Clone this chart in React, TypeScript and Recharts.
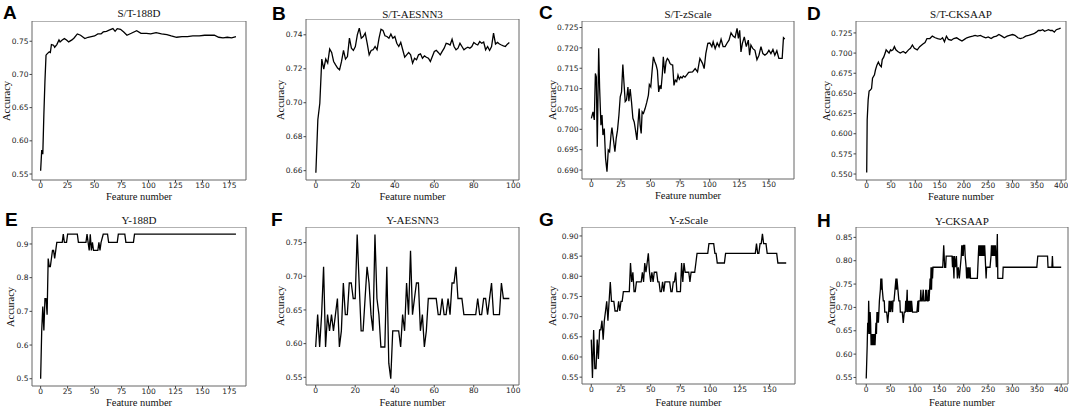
import React from 'react';
import { LineChart, Line, XAxis, YAxis, ReferenceArea } from 'recharts';

// ---- A: S/T-188D ----
const aX = [0, 1, 2, 3, 4, 5, 6, 8, 9, 10, 12, 13, 15, 17, 18, 20, 22, 24, 26, 29, 31, 34, 37, 41, 44, 47, 50, 53, 56, 58, 61, 64, 67, 69, 71, 74, 77, 80, 84, 89, 93, 98, 102, 107, 112, 117, 121, 126, 131, 136, 141, 147, 152, 157, 161, 165, 169, 173, 177, 181];
const aY = [0.555, 0.586, 0.58, 0.64, 0.69, 0.729, 0.731, 0.734, 0.733, 0.745, 0.744, 0.741, 0.745, 0.752, 0.749, 0.752, 0.754, 0.752, 0.749, 0.752, 0.755, 0.761, 0.759, 0.754, 0.756, 0.757, 0.758, 0.761, 0.761, 0.764, 0.765, 0.767, 0.769, 0.765, 0.769, 0.768, 0.764, 0.759, 0.762, 0.766, 0.762, 0.762, 0.761, 0.763, 0.761, 0.76, 0.758, 0.756, 0.757, 0.757, 0.758, 0.758, 0.759, 0.759, 0.759, 0.756, 0.755, 0.756, 0.755, 0.757];

// ---- B: S/T-AESNN3 (one value per feature count, starting at 0) ----
const bY = [
  0.6588, 0.69, 0.6997, 0.7257, 0.7198, 0.7257, 0.7233, 0.7316, 0.7296, 0.7243,
  0.7223, 0.7204, 0.7194, 0.7243, 0.7308, 0.7257, 0.7272, 0.738, 0.7321, 0.7308,
  0.7331, 0.74, 0.7439, 0.738, 0.739, 0.741, 0.735, 0.7282, 0.7308, 0.7312,
  0.7331, 0.7312, 0.738, 0.7433, 0.7426, 0.7394, 0.739, 0.738, 0.7404, 0.738,
  0.739, 0.735, 0.7331, 0.7355, 0.7312, 0.7268, 0.7282, 0.7296, 0.7282, 0.7233,
  0.7262, 0.7253, 0.7282, 0.7288, 0.7262, 0.7276, 0.7268, 0.7262, 0.7243, 0.7272,
  0.7302, 0.7308, 0.7296, 0.7282, 0.7302, 0.7321, 0.735, 0.7346, 0.734, 0.7374,
  0.7331, 0.7312, 0.7321, 0.735, 0.7331, 0.7312, 0.7321, 0.7327, 0.7321, 0.7331,
  0.7355, 0.7346, 0.734, 0.736, 0.735, 0.7357, 0.7312, 0.7331, 0.7308, 0.7331,
  0.741, 0.7346, 0.7355, 0.7346, 0.734, 0.7335, 0.7331, 0.7345, 0.7355,
];

// ---- C: S/T-zScale ----
const cX = [0, 1.4, 2.5, 3.4, 4.2, 5.0, 6.2, 7.0, 8.1, 9.0, 9.8, 10.9, 12.0, 13.2, 14.3, 15.4, 16.6, 17.4, 18.5, 19.9, 21.0, 22.1, 23.3, 24.4, 25.5, 26.6, 27.5, 28.6, 29.7, 30.9, 31.7, 32.8, 33.9, 35.1, 36.2, 37.3, 38.5, 39.5, 40.4, 41.2, 42.1, 42.9, 44.0, 45.4, 46.8, 48.2, 49.0, 50.2, 51.3, 52.4, 53.6, 54.7, 55.8, 56.9, 58.0, 58.9, 60.0, 60.8, 62.0, 63.1, 64.2, 65.3, 66.4, 67.5, 68.7, 69.8, 70.9, 72.1, 73.2, 74.3, 75.5, 76.6, 77.7, 79.1, 80.5, 82.2, 85.5, 87.7, 89.7, 91.7, 93.9, 95.3, 96.7, 98.4, 100.1, 101.8, 102.9, 104.6, 106.3, 107.9, 109.6, 111.3, 113.0, 114.7, 116.3, 118.0, 119.7, 121.4, 123.1, 124.2, 125.3, 126.4, 127.6, 129.2, 130.9, 132.6, 133.7, 134.8, 136.5, 138.2, 139.9, 141.6, 143.3, 144.9, 146.6, 148.3, 150.0, 151.7, 153.4, 155.0, 156.7, 158.4, 160.1, 161.2, 162.3, 163.4];
const cY = [0.7027, 0.7043, 0.7023, 0.7137, 0.7129, 0.6957, 0.7199, 0.71, 0.701, 0.7035, 0.6986, 0.7002, 0.6929, 0.6896, 0.6949, 0.6945, 0.6986, 0.7004, 0.6978, 0.6945, 0.6978, 0.6998, 0.7035, 0.708, 0.7092, 0.7159, 0.7117, 0.7068, 0.7072, 0.7104, 0.7069, 0.7099, 0.7068, 0.7027, 0.7018, 0.6998, 0.6974, 0.7018, 0.7051, 0.701, 0.699, 0.7043, 0.7039, 0.7051, 0.7066, 0.7084, 0.711, 0.7104, 0.7143, 0.7178, 0.7166, 0.7158, 0.7145, 0.7092, 0.7108, 0.7099, 0.7137, 0.7178, 0.7137, 0.7166, 0.7174, 0.717, 0.7162, 0.7159, 0.7158, 0.7108, 0.7121, 0.7117, 0.7133, 0.7123, 0.7129, 0.7126, 0.7131, 0.7128, 0.7133, 0.714, 0.7141, 0.7149, 0.7141, 0.7174, 0.7162, 0.7149, 0.7186, 0.7211, 0.7212, 0.7203, 0.7215, 0.7198, 0.7212, 0.7203, 0.7221, 0.7203, 0.7203, 0.7212, 0.7219, 0.7237, 0.7229, 0.7225, 0.7248, 0.7223, 0.7243, 0.719, 0.7211, 0.7227, 0.7203, 0.7219, 0.7182, 0.7207, 0.7198, 0.7194, 0.7171, 0.7182, 0.7203, 0.7186, 0.7182, 0.7186, 0.7194, 0.7186, 0.7196, 0.7182, 0.7193, 0.7174, 0.7174, 0.7174, 0.7225, 0.7222];

// ---- D: S/T-CKSAAP ----
const dX = [0, 1, 3, 5, 7, 10, 12, 16, 18, 21, 24, 27, 30, 32, 35, 38, 40, 43, 46, 49, 51, 54, 57, 60, 64, 69, 75, 80, 86, 90, 94, 98, 104, 109, 115, 120, 124, 130, 135, 141, 146, 152, 156, 160, 164, 168, 174, 179, 185, 190, 196, 201, 206, 212, 218, 223, 228, 234, 240, 245, 250, 256, 261, 267, 272, 278, 283, 289, 294, 300, 305, 311, 316, 322, 327, 333, 338, 344, 349, 353, 358, 362, 366, 370, 374, 378, 382, 386, 390, 395, 399];
const dY = [0.552, 0.617, 0.642, 0.653, 0.654, 0.656, 0.669, 0.673, 0.679, 0.685, 0.689, 0.685, 0.683, 0.692, 0.695, 0.7, 0.704, 0.702, 0.7, 0.704, 0.703, 0.704, 0.708, 0.704, 0.702, 0.7, 0.702, 0.7, 0.704, 0.706, 0.71, 0.706, 0.704, 0.708, 0.711, 0.713, 0.718, 0.718, 0.721, 0.719, 0.718, 0.717, 0.719, 0.714, 0.721, 0.717, 0.716, 0.718, 0.719, 0.717, 0.715, 0.717, 0.719, 0.72, 0.721, 0.722, 0.721, 0.722, 0.72, 0.719, 0.72, 0.718, 0.72, 0.721, 0.723, 0.721, 0.719, 0.721, 0.722, 0.723, 0.722, 0.719, 0.718, 0.719, 0.721, 0.722, 0.723, 0.724, 0.726, 0.728, 0.728, 0.729, 0.727, 0.728, 0.729, 0.728, 0.728, 0.726, 0.729, 0.73, 0.731];

// ---- E: Y-188D ----
const eX = [0, 1, 2, 3, 4, 5, 6, 7, 8, 9, 10, 11, 12, 13, 14, 15, 20, 21, 22, 24, 25, 34, 35, 42, 43, 44, 45, 46, 47, 48, 49, 53, 54, 55, 56, 58, 62, 63, 71, 72, 78, 79, 86, 87, 181];
const eY = [0.5, 0.643, 0.714, 0.643, 0.738, 0.738, 0.69, 0.857, 0.833, 0.833, 0.857, 0.881, 0.881, 0.857, 0.881, 0.905, 0.905, 0.929, 0.905, 0.905, 0.929, 0.929, 0.905, 0.905, 0.929, 0.905, 0.881, 0.929, 0.881, 0.905, 0.881, 0.881, 0.905, 0.881, 0.905, 0.929, 0.929, 0.905, 0.905, 0.929, 0.929, 0.905, 0.905, 0.929, 0.929];

// ---- F: Y-AESNN3 (one value per feature count, starting at 0) ----
const fY = [
  0.595, 0.643, 0.595, 0.643, 0.714, 0.595, 0.643, 0.619, 0.643, 0.619,
  0.643, 0.667, 0.595, 0.619, 0.69, 0.643, 0.643, 0.69, 0.69, 0.667,
  0.667, 0.762, 0.69, 0.619, 0.619, 0.667, 0.714, 0.69, 0.643, 0.619,
  0.762, 0.667, 0.643, 0.595, 0.595, 0.595, 0.714, 0.571, 0.548, 0.619,
  0.619, 0.619, 0.619, 0.595, 0.643, 0.619, 0.69, 0.643, 0.738, 0.643,
  0.667, 0.69, 0.69, 0.619, 0.643, 0.595, 0.619, 0.667, 0.667, 0.667,
  0.667, 0.667, 0.643, 0.643, 0.667, 0.643, 0.643, 0.667, 0.643, 0.69,
  0.69, 0.714, 0.667, 0.667, 0.667, 0.643, 0.643, 0.643, 0.643, 0.643,
  0.643, 0.643, 0.667, 0.643, 0.643, 0.667, 0.667, 0.643, 0.667, 0.69,
  0.643, 0.643, 0.643, 0.643, 0.69, 0.667, 0.667, 0.667, 0.667,
];

// ---- G: Y-zScale ----
const gX = [0, 1, 2, 3, 4, 5, 6, 7, 8, 9, 10, 11, 12, 13, 14, 15, 16, 17, 19, 20, 22, 23, 24, 25, 26, 27, 32, 33, 34, 35, 36, 37, 38, 42, 43, 44, 45, 46, 47, 48, 49, 50, 51, 52, 53, 55, 56, 57, 58, 59, 60, 61, 62, 66, 67, 68, 69, 70, 71, 72, 75, 76, 77, 78, 79, 82, 83, 84, 87, 88, 89, 98, 99, 103, 104, 105, 106, 112, 113, 138, 139, 140, 141, 142, 143, 144, 145, 147, 148, 156, 157, 164];
const gY = [0.643, 0.548, 0.667, 0.571, 0.571, 0.643, 0.595, 0.667, 0.667, 0.69, 0.643, 0.69, 0.714, 0.738, 0.69, 0.738, 0.786, 0.738, 0.738, 0.714, 0.714, 0.738, 0.714, 0.738, 0.738, 0.762, 0.762, 0.833, 0.786, 0.81, 0.762, 0.762, 0.786, 0.786, 0.81, 0.786, 0.833, 0.81, 0.833, 0.857, 0.81, 0.786, 0.81, 0.786, 0.81, 0.81, 0.786, 0.786, 0.762, 0.762, 0.786, 0.762, 0.786, 0.786, 0.762, 0.762, 0.786, 0.786, 0.81, 0.762, 0.762, 0.833, 0.786, 0.833, 0.81, 0.81, 0.786, 0.81, 0.81, 0.833, 0.857, 0.857, 0.881, 0.881, 0.857, 0.857, 0.833, 0.833, 0.857, 0.857, 0.881, 0.857, 0.857, 0.881, 0.881, 0.905, 0.881, 0.881, 0.857, 0.857, 0.833, 0.833];

// ---- H: Y-CKSAAP ----
const hX = [
  0, 2, 3, 4, 5, 6, 7, 8, 9, 10,
  11, 12, 13, 14, 15, 16, 17, 18, 19, 20,
  21, 22, 23, 24, 25, 27, 29, 30, 31, 32,
  33, 35, 37, 38, 42, 44, 46, 47, 48, 49,
  50, 52, 54, 55, 57, 59, 61, 62, 63, 65,
  67, 69, 70, 74, 76, 78, 80, 81, 82, 84,
  85, 87, 88, 89, 90, 91, 92, 93, 95, 104,
  106, 107, 108, 111, 112, 113, 115, 117, 118, 121,
  122, 123, 124, 125, 127, 128, 129, 130, 131, 132,
  133, 134, 135, 136, 137, 157, 159, 161, 163, 164,
  176, 177, 178, 180, 181, 183, 185, 187, 189, 191,
  193, 195, 196, 197, 198, 199, 200, 202, 203, 205,
  206, 207, 208, 210, 211, 213, 214, 228, 229, 230,
  231, 232, 233, 234, 235, 236, 237, 238, 239, 240,
  241, 242, 243, 244, 245, 246, 247, 254, 256, 257,
  258, 259, 260, 261, 262, 263, 264, 265, 266, 267,
  268, 269, 270, 280, 281, 350, 352, 372, 373, 381,
  382, 383, 400,
];
const hY = [
  0.548, 0.619, 0.667, 0.643, 0.714, 0.667, 0.643, 0.69, 0.667, 0.619,
  0.643, 0.619, 0.643, 0.619, 0.643, 0.619, 0.643, 0.619, 0.643, 0.667,
  0.643, 0.69, 0.667, 0.69, 0.667, 0.714, 0.738, 0.762, 0.738, 0.762,
  0.738, 0.714, 0.714, 0.69, 0.69, 0.667, 0.69, 0.714, 0.69, 0.714,
  0.69, 0.714, 0.69, 0.714, 0.714, 0.738, 0.762, 0.738, 0.762, 0.738,
  0.714, 0.714, 0.69, 0.69, 0.667, 0.69, 0.69, 0.714, 0.69, 0.738,
  0.69, 0.714, 0.69, 0.714, 0.69, 0.714, 0.69, 0.714, 0.69, 0.69,
  0.714, 0.69, 0.714, 0.714, 0.738, 0.714, 0.714, 0.738, 0.714, 0.714,
  0.738, 0.714, 0.738, 0.714, 0.714, 0.738, 0.714, 0.738, 0.762, 0.738,
  0.786, 0.738, 0.786, 0.762, 0.786, 0.786, 0.833, 0.786, 0.786, 0.81,
  0.81, 0.786, 0.81, 0.762, 0.81, 0.786, 0.81, 0.762, 0.786, 0.762,
  0.786, 0.81, 0.833, 0.81, 0.833, 0.81, 0.833, 0.833, 0.81, 0.786,
  0.762, 0.786, 0.762, 0.786, 0.762, 0.786, 0.762, 0.762, 0.786, 0.81,
  0.833, 0.81, 0.833, 0.81, 0.833, 0.81, 0.833, 0.81, 0.833, 0.81,
  0.833, 0.81, 0.833, 0.81, 0.786, 0.762, 0.786, 0.786, 0.81, 0.833,
  0.81, 0.833, 0.81, 0.833, 0.81, 0.833, 0.81, 0.833, 0.81, 0.786,
  0.81, 0.857, 0.762, 0.762, 0.786, 0.786, 0.81, 0.81, 0.786, 0.786,
  0.81, 0.786, 0.786,
];

// ---- tick values ----
const xTicks188 = [0, 25, 50, 75, 100, 125, 150, 175];
const xTicks100 = [0, 20, 40, 60, 80, 100];
const xTicks150 = [0, 25, 50, 75, 100, 125, 150];
const xTicks400 = [0, 50, 100, 150, 200, 250, 300, 350, 400];
const aYTicks = [0.55, 0.6, 0.65, 0.7, 0.75];
const bYTicks = [0.66, 0.68, 0.7, 0.72, 0.74];
const cYTicks = [0.69, 0.695, 0.7, 0.705, 0.71, 0.715, 0.72, 0.725];
const dYTicks = [0.55, 0.575, 0.6, 0.625, 0.65, 0.675, 0.7, 0.725];
const eYTicks = [0.5, 0.6, 0.7, 0.8, 0.9];
const fYTicks = [0.55, 0.6, 0.65, 0.7, 0.75];
const gYTicks = [0.55, 0.6, 0.65, 0.7, 0.75, 0.8, 0.85, 0.9];
const hYTicks = [0.55, 0.6, 0.65, 0.7, 0.75, 0.8, 0.85];

const zip = (xs: number[], ys: number[]) => xs.map((x, i) => ({ x, y: ys[i] }));
const byIndex = (ys: number[]) => ys.map((y, i) => ({ x: i, y }));

const YW = 40;
const XH = 22;
const tickStyle = { fill: '#222', fontSize: 7.5, fontFamily: 'DejaVu Sans' };
const serif = '"Liberation Serif", "Times New Roman", serif';

type Box = { x: number; y: number; w: number; h: number };

type PanelProps = {
  letter: string;
  title: string;
  data: { x: number; y: number }[];
  xDomain: [number, number];
  yDomain: [number, number];
  xTicks: number[];
  yTicks: number[];
  yDigits: number;
  box: Box;
  titleY: number;
  letterPos: [number, number];
  yLabelX: number;
  xLabelY: number;
};

const labelStyle: React.CSSProperties = {
  position: 'absolute',
  fontFamily: serif,
  fontWeight: 'normal',
  fontSize: 10.5,
  lineHeight: '10px',
  whiteSpace: 'nowrap',
  color: '#111',
};

const Panel = (p: PanelProps) => {
  const { box } = p;
  return (
    <>
      <div style={{ position: 'absolute', left: box.x - YW, top: box.y }}>
        <LineChart
          width={box.w + YW + 2}
          height={box.h + XH}
          data={p.data}
          margin={{ top: 0, right: 2, bottom: 0, left: 0 }}
        >
          <XAxis
            dataKey="x"
            type="number"
            domain={p.xDomain}
            ticks={p.xTicks}
            interval={0}
            allowDataOverflow
            axisLine={false}
            tickSize={2.5}
            tickMargin={0}
            height={XH}
            stroke="#444"
            tick={tickStyle}
          />
          <YAxis
            type="number"
            domain={p.yDomain}
            ticks={p.yTicks}
            interval={0}
            allowDataOverflow
            axisLine={false}
            tickSize={2.5}
            tickMargin={1}
            width={YW}
            stroke="#444"
            tick={tickStyle}
            tickFormatter={(v: number) => v.toFixed(p.yDigits)}
          />
          <ReferenceArea
            x1={p.xDomain[0]}
            x2={p.xDomain[1]}
            y1={p.yDomain[0]}
            y2={p.yDomain[1]}
            fill="none"
            fillOpacity={0}
            stroke="#666"
            strokeWidth={1}
          />
          <Line
            dataKey="y"
            type="linear"
            stroke="#000"
            strokeWidth={1.3}
            dot={false}
            isAnimationActive={false}
          />
        </LineChart>
      </div>
      <div
        style={{
          position: 'absolute',
          left: p.letterPos[0],
          top: p.letterPos[1] - 2.5,
          fontFamily: '"Liberation Sans", Arial, sans-serif',
          fontWeight: 'bold',
          fontSize: 19,
          lineHeight: '19px',
        }}
      >
        {p.letter}
      </div>
      <div
        style={{
          ...labelStyle,
          fontSize: 11,
          left: box.x + box.w / 2,
          top: p.titleY,
          transform: 'translate(-50%, -50%)',
        }}
      >
        {p.title}
      </div>
      <div
        style={{
          ...labelStyle,
          left: p.yLabelX,
          top: box.y + box.h / 2,
          transform: 'translate(-50%, -50%) rotate(-90deg)',
        }}
      >
        Accuracy
      </div>
      <div
        style={{
          ...labelStyle,
          left: box.x + box.w / 2,
          top: p.xLabelY,
          transform: 'translate(-50%, -50%)',
        }}
      >
        Feature number
      </div>
    </>
  );
};

const panels: PanelProps[] = [
  { letter: 'A', title: 'S/T-188D', data: zip(aX, aY), xDomain: [-8, 190.3], yDomain: [0.541, 0.7805], xTicks: xTicks188, yTicks: aYTicks, yDigits: 2, box: { x: 32, y: 21, w: 214, h: 159 }, titleY: 13, letterPos: [3, 5], yLabelX: 7, xLabelY: 196.5 },
  { letter: 'B', title: 'S/T-AESNN3', data: byIndex(bY), xDomain: [-5, 102.9], yDomain: [0.6545, 0.7493], xTicks: xTicks100, yTicks: bYTicks, yDigits: 2, box: { x: 306, y: 19, w: 213, h: 161 }, titleY: 14, letterPos: [272, 6], yLabelX: 281, xLabelY: 196.5 },
  { letter: 'C', title: 'S/T-zScale', data: zip(cX, cY), xDomain: [-7.9, 171.2], yDomain: [0.6878, 0.7266], xTicks: xTicks150, yTicks: cYTicks, yDigits: 3, box: { x: 582, y: 21, w: 212, h: 158 }, titleY: 14, letterPos: [539, 5], yLabelX: 553, xLabelY: 195.5 },
  { letter: 'D', title: 'S/T-CKSAAP', data: zip(dX, dY), xDomain: [-22, 410], yDomain: [0.5426, 0.7398], xTicks: xTicks400, yTicks: dYTicks, yDigits: 3, box: { x: 856, y: 21, w: 210, h: 159 }, titleY: 14, letterPos: [807, 6], yLabelX: 827, xLabelY: 196.5 },
  { letter: 'E', title: 'Y-188D', data: zip(eX, eY), xDomain: [-8, 190.3], yDomain: [0.4784, 0.9504], xTicks: xTicks188, yTicks: eYTicks, yDigits: 1, box: { x: 32, y: 227, w: 214, h: 159 }, titleY: 220, letterPos: [5, 212], yLabelX: 11, xLabelY: 402.5 },
  { letter: 'F', title: 'Y-AESNN3', data: byIndex(fY), xDomain: [-4.9, 102.9], yDomain: [0.5386, 0.7731], xTicks: xTicks100, yTicks: fYTicks, yDigits: 2, box: { x: 306, y: 227, w: 213, h: 158 }, titleY: 220, letterPos: [271, 212], yLabelX: 281, xLabelY: 402.5 },
  { letter: 'G', title: 'Y-zScale', data: zip(gX, gY), xDomain: [-7.8, 171.4], yDomain: [0.533, 0.9222], xTicks: xTicks150, yTicks: gYTicks, yDigits: 2, box: { x: 582, y: 227, w: 213, h: 157 }, titleY: 220, letterPos: [539, 212], yLabelX: 553, xLabelY: 402.5 },
  { letter: 'H', title: 'Y-CKSAAP', data: zip(hX, hY), xDomain: [-21, 414], yDomain: [0.536, 0.8722], xTicks: xTicks400, yTicks: hYTicks, yDigits: 2, box: { x: 856, y: 227, w: 212, h: 157 }, titleY: 221, letterPos: [817, 213], yLabelX: 832, xLabelY: 402.5 },
];

export default function App() {
  return (
    <div
      style={{
        position: 'absolute',
        left: 0,
        top: 0,
        width: 1072,
        height: 408,
        background: '#fff',
        overflow: 'hidden',
      }}
    >
      {panels.map((p) => (
        <Panel key={p.letter} {...p} />
      ))}
    </div>
  );
}
